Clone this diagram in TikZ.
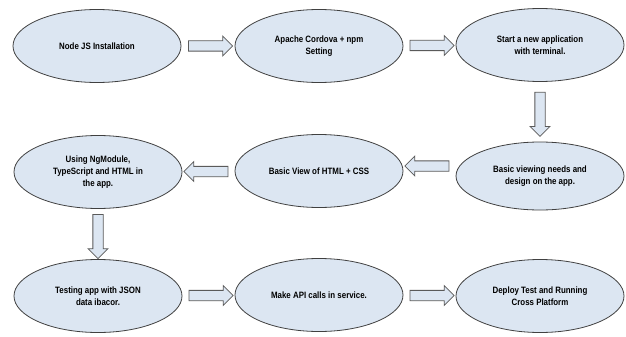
\documentclass[tikz,border=0pt]{standalone}
\usepackage{fontspec}
\setmainfont{Liberation Sans}[FakeStretch=0.86]
\usetikzlibrary{shapes.geometric,shapes.arrows,calc}
\definecolor{boxblue}{HTML}{DCE6F2}
\definecolor{edgegray}{HTML}{404040}
\definecolor{arrowgray}{HTML}{5A5A5A}
\tikzset{
  stepnode/.style = {ellipse, draw=edgegray, fill=boxblue, line width=0.8pt,
    inner sep=0pt, minimum width=168pt, minimum height=73pt, align=center,
    font=\bfseries\fontsize{9.2}{12}\selectfont},
  flowarrow/.style = {single arrow, draw=arrowgray, fill=boxblue, line width=0.8pt,
    inner xsep=0pt, inner ysep=4.75pt, single arrow head extend=4.75pt,
    minimum height=44pt},
}

\begin{document}
\begin{tikzpicture}[x=1pt,y=-1pt]
  \useasboundingbox (0,0) rectangle (626,337);
  % process steps
  \node [stepnode] (node) at (97,46) {Node JS Installation};
  \node [stepnode] (cordova) at (319,46) {Apache Cordova + npm\\Setting};
  \node [stepnode] (start) at (540,45) {Start a new application\\with terminal.};
  \node [stepnode, minimum height=68pt] (viewing) at (540,176) {Basic viewing needs and\\design on the app.};
  \node [stepnode] (view) at (319,171) {Basic View of HTML + CSS};
  \node [stepnode] (ngmodule) at (98,172) {Using NgModule,\\TypeScript and HTML in\\the app.};
  \node [stepnode] (testing) at (98,296) {Testing app with JSON\\data ibacor.};
  \node [stepnode] (api) at (319,295) {Make API calls in service.};
  \node [stepnode] (deploy) at (540,296) {Deploy Test and Running\\Cross Platform};
  % block arrows
  \node [flowarrow] (a1) at ($(node.east)!0.5!(cordova.west)$) {};
  \node [flowarrow] (a2) at ($(cordova.east)!0.5!(start.west)$) {};
  \node [flowarrow, rotate=-90] (a3) at ($(start.south)!0.5!(viewing.north)$) {};
  \node [flowarrow, rotate=180, yshift=-7.5pt] (a4) at ($(viewing.west)!0.5!(view.east)$) {};
  \node [flowarrow, rotate=180] (a5) at ($(view.west)!0.5!(ngmodule.east)$) {};
  \node [flowarrow, rotate=-90] (a6) at ($(ngmodule.south)!0.5!(testing.north)$) {};
  \node [flowarrow] (a7) at ($(testing.east)!0.5!(api.west)$) {};
  \node [flowarrow] (a8) at ($(api.east)!0.5!(deploy.west)$) {};
\end{tikzpicture}
\end{document}
